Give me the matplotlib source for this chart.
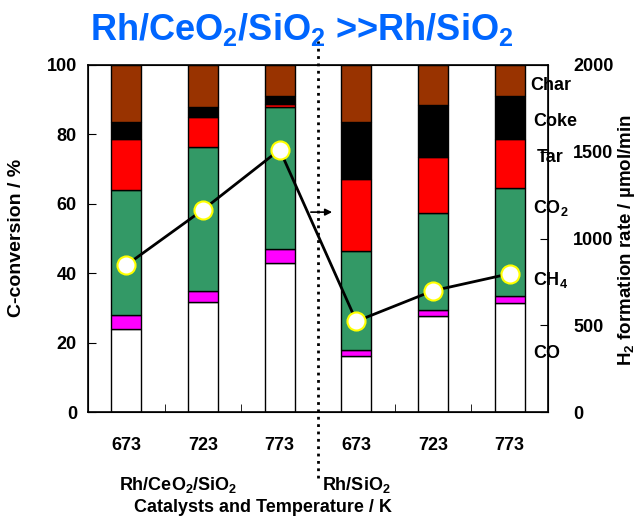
import numpy as np
import matplotlib
matplotlib.use("Agg")
import matplotlib.pyplot as plt

plt.rcParams['font.family'] = 'Liberation Sans'
plt.rcParams['font.weight'] = 'bold'
plt.rcParams['axes.labelweight'] = 'bold'
plt.rcParams['mathtext.fontset'] = 'custom'
plt.rcParams['mathtext.rm'] = 'Liberation Sans:bold'
plt.rcParams['mathtext.bf'] = 'Liberation Sans:bold'
plt.rcParams['mathtext.default'] = 'bf'

# data
temps = ['673', '723', '773', '673', '723', '773']
catalysts = ['Rh/CeO$_2$/SiO$_2$', 'Rh/SiO$_2$']
co = [23.8, 31.8, 42.8, 16.1, 27.7, 31.5]
ch4 = [4.2, 3.2, 4.3, 1.7, 1.6, 1.8]
co2 = [35.9, 41.3, 40.7, 28.5, 28.0, 31.3]
tar = [14.7, 8.8, 1.1, 20.9, 16.1, 14.0]
coke = [5.0, 2.9, 2.3, 16.4, 15.1, 12.6]
char = [16.4, 12.0, 8.8, 16.4, 11.5, 8.8]
h2_rate = [847, 1166, 1512, 523, 699, 797]

series = [co, ch4, co2, tar, coke, char]
colors = ['white', '#ff00ff', '#339966', '#ff0000', '#000000', '#993300']
names = ['CO', 'CH$_4$', 'CO$_2$', 'Tar', 'Coke', 'Char']

fig = plt.figure(figsize=(6.38, 5.22), dpi=100)
ax = fig.add_axes([0.138, 0.2107, 0.721, 0.6648])

x = np.arange(len(temps))
bottom = np.zeros(len(temps))
for vals, c in zip(series, colors):
    ax.bar(x, vals, 0.39, bottom=bottom, color=c, edgecolor='black', linewidth=1, zorder=2)
    bottom += np.array(vals)

ax.set_xlim(-0.5, 5.5)
ax.set_ylim(0, 100)
ax.set_yticks(np.arange(0, 101, 20))
ax.tick_params(axis='y', direction='in', length=6, labelsize=13, pad=8)
ax.set_xticks(x)
ax.set_xticklabels(temps, fontsize=13)
ax.tick_params(axis='x', which='major', length=0, pad=18)
ax.set_xticks([0.5, 1.5, 3.5, 4.5], minor=True)
ax.tick_params(axis='x', which='minor', direction='in', length=6)
ax.set_ylabel('C-conversion / %', fontsize=14)
ax.yaxis.set_label_coords(-0.137, 0.503)
for sp in ax.spines.values():
    sp.set_linewidth(1.2)

ax2 = ax.twinx()
ax2.set_ylim(0, 2000)
ax2.set_yticks(np.arange(0, 2001, 500))
ax2.tick_params(axis='y', direction='in', length=6, labelsize=13, pad=18)
ax2.plot(x, h2_rate, '-', color='black', lw=2, marker='o', ms=13,
         mfc='white', mec='#ffff00', mew=1.5, zorder=5)
ax2.set_ylabel('H$_2$ formation rate / \u00b5mol/min', fontsize=13.5)
ax2.yaxis.set_label_coords(1.148, 0.496)

# component labels next to the right axis
label_pos = [(0.968, 0.170), (0.968, 0.380), (0.968, 0.588),
             (0.976, 0.732), (0.968, 0.836), (0.961, 0.942)]
for name, (lx, ly) in zip(names, label_pos):
    ax.text(lx, ly, name, transform=ax.transAxes, fontsize=13,
            ha='left', va='center', zorder=6, clip_on=False)

# arrow pointing to the right axis
ax.annotate('', xy=(2.72, 57.6), xytext=(2.37, 57.6),
            arrowprops=dict(arrowstyle='-|>', color='black', lw=1.2, mutation_scale=10))

# dotted separator between catalysts
ax.axvline(2.5, ymin=-0.19, ymax=1.075, color='black', ls=':', lw=2, clip_on=False, zorder=7)

# catalyst group labels
ax.text(0.67, -0.21, catalysts[0], transform=ax.get_xaxis_transform(),
        ha='center', va='center', fontsize=13)
ax.text(3.0, -0.21, catalysts[1], transform=ax.get_xaxis_transform(),
        ha='center', va='center', fontsize=13)
fig.text(263 / 638, 1 - 508 / 522, 'Catalysts and Temperature / K',
         ha='center', va='center', fontsize=13)

fig.text(302 / 638, 1 - 30 / 522, 'Rh/CeO$_2$/SiO$_2$ >>Rh/SiO$_2$',
         ha='center', va='center', fontsize=26, color='#0066ff')

fig.savefig('out.png', dpi=100)
